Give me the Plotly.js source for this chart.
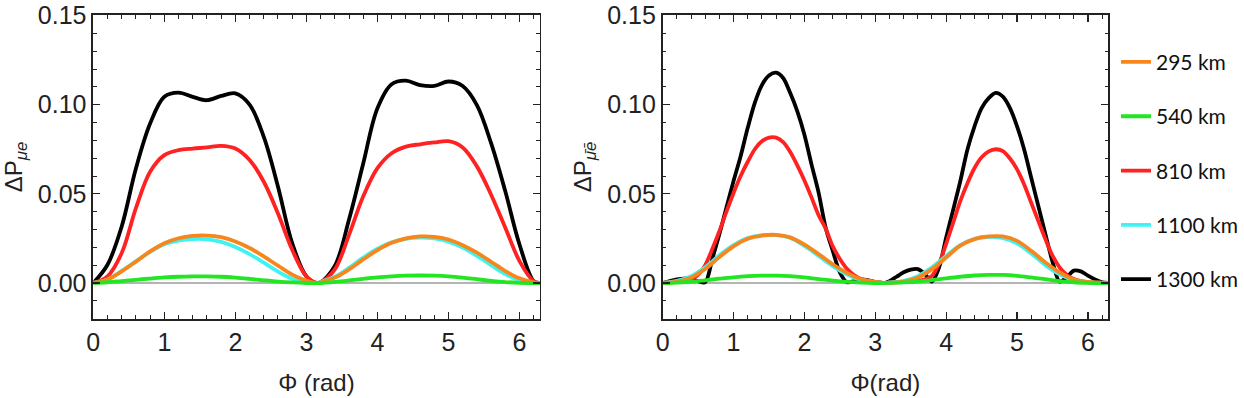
<!DOCTYPE html>
<html>
<head>
<meta charset="utf-8">
<script src="https://cdn.plot.ly/plotly-3.0.1.min.js"></script>
<style>
  body { margin: 0; background: #fff; }
  #myDiv { width: 1244px; height: 398px; }
</style>
</head>
<body>
<div id="myDiv"></div>
<script>
// phase grid (rad), coarse and fine
var phi = [0, 0.2, 0.4, 0.6, 0.8, 1.0, 1.2, 1.4, 1.6, 1.8, 2.0, 2.2, 2.4, 2.6, 2.8, 3.0, 3.1416,
           3.2, 3.4, 3.6, 3.8, 4.0, 4.2, 4.4, 4.6, 4.8, 5.0, 5.2, 5.4, 5.6, 5.8, 6.0, 6.2, 6.2832];
var phiFine = [0, 0.1, 0.2, 0.3, 0.4, 0.5, 0.6, 0.7, 0.8, 0.9, 1.0, 1.1, 1.2, 1.3, 1.4, 1.5, 1.6, 1.7, 1.8, 1.9,
               2.0, 2.1, 2.2, 2.3, 2.4, 2.5, 2.6, 2.7, 2.8, 2.9, 3.0, 3.1, 3.1416,
               3.2, 3.3, 3.4, 3.5, 3.6, 3.7, 3.8, 3.9, 4.0, 4.1, 4.2, 4.3, 4.4, 4.5, 4.6, 4.7, 4.8, 4.9,
               5.0, 5.1, 5.2, 5.3, 5.4, 5.5, 5.6, 5.7, 5.8, 5.9, 6.0, 6.1, 6.2, 6.2832];

var baselines = ['295 km', '540 km', '810 km', '1100 km', '1300 km'];
var colors = ['#f7861c', '#22e622', '#ff2222', '#3ff3f3', '#000000'];

// left panel: dP_mu e
var left295 = [0, 0.0019, 0.0065, 0.012, 0.0177, 0.0223, 0.0251, 0.0264, 0.0266, 0.0257, 0.0233, 0.0196, 0.0149, 0.0097, 0.0047, 0.0013, 0,
               0.0004, 0.003, 0.0076, 0.0132, 0.0184, 0.0225, 0.025, 0.0261, 0.0259, 0.0244, 0.0212, 0.017, 0.0119, 0.0067, 0.0026, 0.0004, 0];
var left540 = [0, 0.0004, 0.0011, 0.0018, 0.0025, 0.0031, 0.0035, 0.0037, 0.0037, 0.0035, 0.003, 0.0023, 0.0015, 0.0008, 0.0003, 0, 0,
               0, 0.0006, 0.0014, 0.0023, 0.0031, 0.0037, 0.0041, 0.0042, 0.0041, 0.0037, 0.003, 0.0021, 0.0012, 0.0005, 0.0001, 0, 0];
var left810 = [0, 0.0037, 0.0168, 0.042, 0.0624, 0.0717, 0.0745, 0.0754, 0.076, 0.0769, 0.0754, 0.069, 0.0568, 0.039, 0.0186, 0.0037, 0,
               0.0004, 0.0076, 0.027, 0.0486, 0.0644, 0.0728, 0.0765, 0.0778, 0.0788, 0.0795, 0.076, 0.0654, 0.0495, 0.031, 0.0123, 0.001, 0];
var left1100 = [0, 0.002, 0.0068, 0.0122, 0.0175, 0.0218, 0.0238, 0.0246, 0.0245, 0.0231, 0.0202, 0.0162, 0.0114, 0.0064, 0.0024, 0.0004, 0,
                0.0006, 0.0035, 0.0085, 0.0142, 0.0192, 0.0228, 0.0248, 0.0254, 0.025, 0.0232, 0.0198, 0.0152, 0.01, 0.005, 0.0015, 0.0001, 0];
var left1300 = [0, 0.0102, 0.0317, 0.0642, 0.0894, 0.1045, 0.1068, 0.1044, 0.1025, 0.1049, 0.1063, 0.1, 0.0819, 0.054, 0.0223, 0.0037, 0,
                0.0004, 0.0095, 0.0356, 0.067, 0.098, 0.1115, 0.1135, 0.111, 0.1105, 0.113, 0.1105, 0.0998, 0.0784, 0.0514, 0.0216, 0.001, 0];

// right panel: dP_mubar ebar
var right295 = [0, 0.0008, 0.003, 0.0078, 0.0145, 0.0205, 0.0248, 0.0266, 0.027, 0.0256, 0.0215, 0.0162, 0.0105, 0.0057, 0.0022, 0.0006, 0,
                0.0002, 0.0008, 0.003, 0.0078, 0.0143, 0.0209, 0.0246, 0.0261, 0.0261, 0.0236, 0.018, 0.0115, 0.006, 0.0019, 0.0006, 0.0001, 0];
var right540 = [0, 0.0002, 0.0007, 0.0015, 0.0024, 0.0032, 0.0038, 0.0041, 0.0041, 0.0038, 0.0031, 0.0022, 0.0013, 0.0006, 0.0002, 0, 0,
                0.0001, 0.0003, 0.0008, 0.0016, 0.0026, 0.0035, 0.0042, 0.0045, 0.0045, 0.004, 0.0031, 0.0021, 0.0011, 0.0004, 0.0001, 0, 0];
var right1100 = [0, 0.0012, 0.0038, 0.0088, 0.0155, 0.0212, 0.0252, 0.0268, 0.0268, 0.0252, 0.0208, 0.0152, 0.0095, 0.0048, 0.0017, 0.0004, 0,
                 0.0003, 0.0012, 0.0038, 0.0088, 0.0152, 0.0212, 0.0248, 0.0258, 0.0252, 0.0222, 0.0165, 0.01, 0.0048, 0.0015, 0.0004, 0, 0];
// fine grid for the sharp peaks
var right810 = [0, 0.0003, 0.0005, 0.001, 0.002, 0.0045, 0.01, 0.019, 0.029, 0.04, 0.0505, 0.06, 0.068, 0.075, 0.0795, 0.0815, 0.0815, 0.079, 0.0735, 0.066,
                0.0575, 0.048, 0.038, 0.0305, 0.0205, 0.0135, 0.008, 0.0045, 0.0022, 0.001, 0.0003, 0, 0,
                0.0002, 0.0004, 0.0006, 0.0009, 0.0012, 0.002, 0.004, 0.011, 0.022, 0.034, 0.046, 0.056, 0.0645, 0.0705, 0.0738, 0.075, 0.074, 0.0698,
                0.0637, 0.0553, 0.045, 0.0348, 0.0246, 0.0153, 0.0088, 0.0047, 0.0022, 0.001, 0.0004, 0.0002, 0.0001, 0];
var right1300 = [0, 0.001, 0.002, 0.0025, 0.0022, 0.001, 0.0004, 0.0134, 0.0274, 0.0423, 0.0572, 0.0711, 0.087, 0.101, 0.111, 0.1164, 0.118, 0.115, 0.1065, 0.0963,
                 0.0832, 0.0665, 0.0507, 0.031, 0.018, 0.006, 0.0004, 0.001, 0.002, 0.0015, 0.0005, 0.0001, 0,
                 0.001, 0.0035, 0.006, 0.0075, 0.0078, 0.005, 0.0008, 0.0088, 0.0255, 0.0413, 0.0572, 0.0749, 0.0879, 0.0981, 0.1037, 0.1066, 0.1045, 0.0981,
                 0.0879, 0.0749, 0.059, 0.0432, 0.0274, 0.012, 0.0008, 0.0032, 0.0069, 0.0065, 0.0041, 0.002, 0.0004, 0];

function line(x, y, i, xa, ya, legend, smooth) {
  return {
    x: x, y: y, type: 'scatter', mode: 'lines',
    xaxis: xa, yaxis: ya,
    name: baselines[i], legendgroup: baselines[i], legendrank: i + 1,
    showlegend: legend,
    line: {color: colors[i], width: 3.8, shape: 'spline', smoothing: smooth}
  };
}

// draw order: black, red, cyan, orange, green
var data = [
  line(phi, left1300, 4, 'x', 'y', false, 1),
  line(phi, left810, 2, 'x', 'y', false, 1),
  line(phi, left1100, 3, 'x', 'y', false, 1),
  line(phi, left295, 0, 'x', 'y', false, 1),
  line(phi, left540, 1, 'x', 'y', false, 1),
  line(phiFine, right1300, 4, 'x2', 'y2', true, 0.85),
  line(phiFine, right810, 2, 'x2', 'y2', true, 0.85),
  line(phi, right1100, 3, 'x2', 'y2', true, 1),
  line(phi, right295, 0, 'x2', 'y2', true, 1),
  line(phi, right540, 1, 'x2', 'y2', true, 1)
];

var tickFont = {family: 'Liberation Sans', size: 25, color: '#222'};
var titleFont = {family: 'Liberation Sans', size: 24, color: '#222'};

function xax(domain, title, anchor) {
  return {
    domain: domain, anchor: anchor, range: [0, 2 * Math.PI],
    dtick: 1, tick0: 0, ticks: 'inside', ticklen: 7, tickwidth: 1.2, tickcolor: '#222',
    minor: {dtick: 0.2, ticks: 'inside', ticklen: 3.5, tickcolor: '#222', tickwidth: 1},
    showline: true, linecolor: '#222', linewidth: 1.8, mirror: 'allticks',
    showgrid: false, zeroline: false,
    tickfont: tickFont,
    title: {text: title, font: titleFont, standoff: 19}
  };
}
function yax(title, anchor, standoff) {
  return {
    domain: [0.1985, 0.9623], anchor: anchor, range: [-0.0202, 0.1503],
    dtick: 0.05, tick0: 0, tickformat: '.2f',
    ticks: 'inside', ticklen: 7, tickwidth: 1.2, tickcolor: '#222',
    minor: {dtick: 0.01, ticks: 'inside', ticklen: 3.5, tickcolor: '#222', tickwidth: 1},
    showline: true, linecolor: '#222', linewidth: 1.8, mirror: 'allticks',
    showgrid: false, zeroline: true, zerolinecolor: '#b4b4b4', zerolinewidth: 1.5,
    tickfont: tickFont,
    title: {text: title, font: titleFont, standoff: standoff}
  };
}

var layout = {
  width: 1244, height: 398,
  margin: {l: 0, r: 0, t: 0, b: 0},
  paper_bgcolor: '#fff', plot_bgcolor: '#fff',
  xaxis: xax([0.0756, 0.4373], '\u03a6 (rad)', 'y'),
  yaxis: yax('\u0394P<sub><i>\u03bce</i></sub>', 'x', 26),
  xaxis2: xax([0.537, 0.8979], '\u03a6(rad)', 'y2'),
  yaxis2: yax('\u0394P<sub><i>\u03bc\u0304\u0113</i></sub>', 'x2', 9),
  showlegend: true,
  legend: {
    x: 0.9045, xanchor: 'left', y: 0.895, yanchor: 'top',
    traceorder: 'grouped', tracegroupgap: 24,
    font: {family: 'Lato', size: 21, color: '#111'},
    bgcolor: 'rgba(0,0,0,0)', borderwidth: 0
  }
};

Plotly.newPlot('myDiv', data, layout, {staticPlot: true});
</script>
</body>
</html>
